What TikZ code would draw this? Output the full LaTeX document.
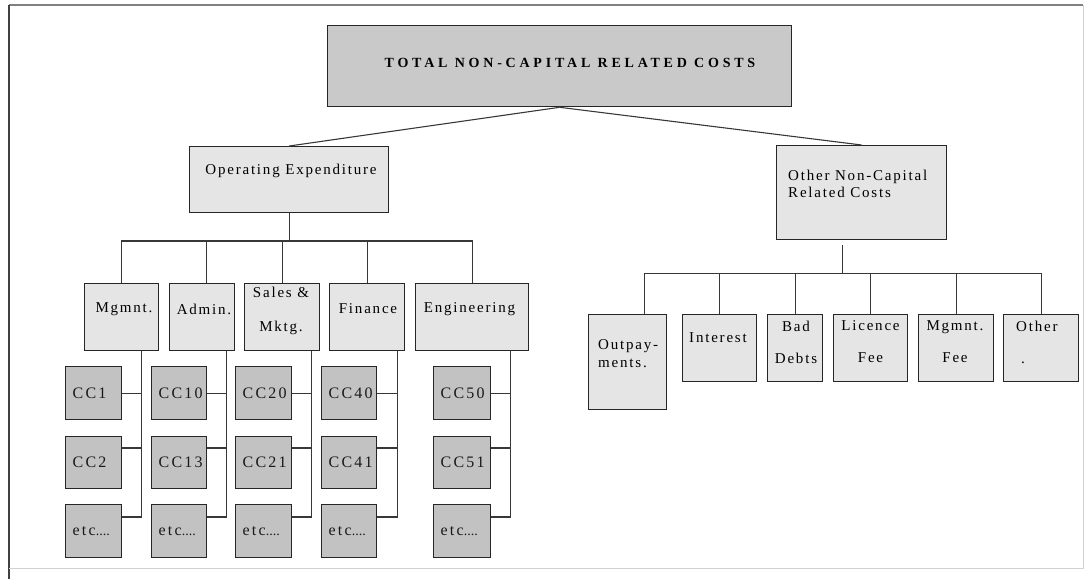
\documentclass[tikz,border=0pt]{standalone}
\usepackage{fontspec}
\setmainfont{Liberation Serif}
\newfontfamily\spacedfont{Liberation Serif}[LetterSpace=12]
\newfontfamily\titlefont{Liberation Serif}[LetterSpace=27]
\newfontfamily\codefont{Liberation Serif}[LetterSpace=14]
\usetikzlibrary{calc}

\tikzset{
  box/.style={draw=black!85, line width=1.3pt, inner sep=0pt, anchor=north west},
  topfill/.style={fill=black!21},
  lightfill/.style={fill=black!10},
  ccfill/.style={fill=black!24},
  ccbox/.style={box, ccfill, inner xsep=7pt, align=left,
    font=\codefont\fontsize{16}{18}\selectfont, text=black!90},
  wire/.style={draw=black!78, line width=1.1pt},
  lbl/.style={inner sep=0pt, align=center, font=\spacedfont\fontsize{15}{17}\selectfont},
  frame/.style={line width=1.6pt}
}

\begin{document}
\begin{tikzpicture}[x=1pt, y=-1pt]
  \useasboundingbox (0,0) rectangle (1091,579);

  % page frame
  \draw[frame, black!50] (9,5) -- (1083,5);
  \draw[frame, black!75] (9,5) -- (9,579);
  \draw[black!18, line width=0.8pt] (1083,5) -- (1083,568) -- (9,568);

  % top level
  \node[box, topfill, minimum width=464pt, minimum height=81pt] (top) at (327,25) {};
  \node[lbl, font=\titlefont\bfseries\fontsize{14}{17}\selectfont] (toptxt) at (570,63)
    {TOTAL NON-CAPITAL RELATED COSTS};

  % second level
  \node[box, lightfill, minimum width=199pt, minimum height=66pt] (oe) at (189,146) {};
  \node[lbl] (oetxt) at (291,171) {Operating Expenditure};

  \node[box, lightfill, minimum width=170pt, minimum height=94pt] (onc) at (776,145) {};
  \node[lbl, anchor=west, align=left] (onctxt) at (788,183.5) {Other Non-Capital\\Related Costs};

  % departments
  \node[box, lightfill, minimum width=74pt,  minimum height=67pt] (mg) at (84,283) {};
  \node[box, lightfill, minimum width=65pt,  minimum height=67pt] (ad) at (169,283) {};
  \node[box, lightfill, minimum width=75pt,  minimum height=67pt] (sm) at (244,283) {};
  \node[box, lightfill, minimum width=75pt,  minimum height=67pt] (fi) at (329,283) {};
  \node[box, lightfill, minimum width=113pt, minimum height=67pt] (en) at (415,283) {};
  \node[lbl] (mgtxt) at (124,309) {Mgmnt.};
  \node[lbl] (adtxt) at (204,309) {Admin.};
  \node[lbl, font=\spacedfont\fontsize{15}{34}\selectfont] (smtxt) at (281,311) {Sales \&\\Mktg.};
  \node[lbl] (fitxt) at (368,309) {Finance};
  \node[lbl] (entxt) at (469.5,309) {Engineering};

  % cost centres
  \foreach \c/\x/\w/\ta/\tb in {1/65/56/CC1/CC2, 2/151/55/CC10/CC13, 3/235/56/CC20/CC21,
                              4/321/55/CC40/CC41, 5/433/57/CC50/CC51} {
    \node[ccbox, minimum width=\w pt, text width=\w pt-14pt, minimum height=53pt] (a\c) at (\x,366) {\ta};
    \node[ccbox, minimum width=\w pt, text width=\w pt-14pt, minimum height=52pt] (b\c) at (\x,436) {\tb};
    \node[ccbox, minimum width=\w pt, text width=\w pt-14pt, minimum height=53pt] (e\c) at (\x,504)
      {etc{\fontspec{Liberation Serif}\fontsize{14}{16}\selectfont....}};
  }

  % other non-capital items
  \node[box, lightfill, minimum width=78pt, minimum height=95pt] (op) at (588,314) {};
  \node[box, lightfill, minimum width=74pt, minimum height=67pt] (in) at (682,314) {};
  \node[box, lightfill, minimum width=55pt, minimum height=67pt] (bd) at (767,314) {};
  \node[box, lightfill, minimum width=74pt, minimum height=67pt] (lf) at (833,314) {};
  \node[box, lightfill, minimum width=75pt, minimum height=67pt] (mf) at (918,314) {};
  \node[box, lightfill, minimum width=75pt, minimum height=67pt] (ot) at (1003,314) {};
  \node[lbl, anchor=west, align=left, font=\spacedfont\fontsize{15}{18}\selectfont] (optxt) at (598,354) {Outpay-\\ments.};
  \node[lbl] (intxt) at (718,338) {Interest};
  \node[lbl, font=\spacedfont\fontsize{15}{32}\selectfont] (bdtxt) at (796,342) {Bad\\Debts};
  \node[lbl, font=\spacedfont\fontsize{15}{32}\selectfont] (lftxt) at (870.5,342) {Licence\\Fee};
  \node[lbl, font=\spacedfont\fontsize{15}{32}\selectfont] (mftxt) at (955,342) {Mgmnt.\\Fee};
  \node[lbl, anchor=west, align=left, font=\spacedfont\fontsize{15}{32}\selectfont] (ottxt) at (1016,342) {Other\\\hspace*{5pt}.};

  % connectors: top level
  \draw[wire] (top.south) -- (oe.north);
  \draw[wire] (top.south) -- (onc.north);

  % connectors: departments
  \coordinate (lbus) at (291,241);
  \draw[wire] (oe.south) -- (oe.south |- lbus);
  \draw[wire] (mg.north) -- (mg.north |- lbus) -- (en.north |- lbus) -- (en.north);
  \coordinate (adtop) at ($(ad.north)+(4.5,0)$);
  \draw[wire] (adtop) -- (adtop |- lbus);
  \draw[wire] (sm.north) -- (sm.north |- lbus);
  \draw[wire] (fi.north) -- (fi.north |- lbus);

  % connectors: cost centres
  \foreach \c/\parent/\off in {1/mg/18, 2/ad/9, 3/sm/9, 4/fi/8, 5/en/19} {
    \coordinate (sp\c) at ($(\parent.south east)+(-\off,0)$);
    \coordinate (bj\c) at ($(b\c.north east)+(0,12)$);
    \coordinate (ej\c) at ($(e\c.north east)+(0,13)$);
    \draw[wire] (sp\c) |- (ej\c);
    \draw[wire] (a\c.east) -- (a\c.east -| sp\c);
    \draw[wire] (bj\c) -- (bj\c -| sp\c);
  }

  % connectors: other non-capital items
  \coordinate (rstem) at ($(onc.south)+(-19,5)$);
  \coordinate (rbus) at ($(rstem)+(0,28)$);
  \coordinate (optop) at ($(op.north east)+(-23,0)$);
  \draw[wire] (rstem) -- (rbus);
  \draw[wire] (optop) -- (optop |- rbus) -- (ot.north |- rbus) -- (ot.north);
  \foreach \n in {in, bd, lf, mf}
    \draw[wire] (\n.north) -- (\n.north |- rbus);
\end{tikzpicture}
\end{document}
